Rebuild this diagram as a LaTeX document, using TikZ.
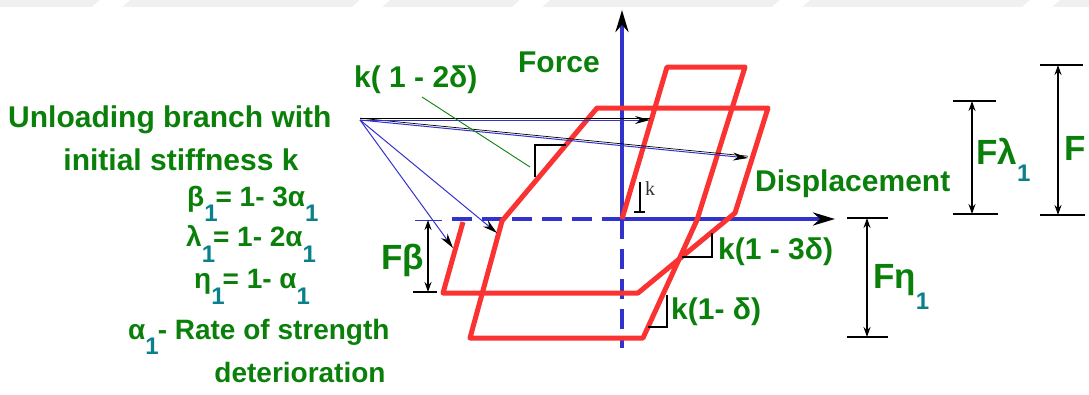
\documentclass[tikz,border=0pt]{standalone}
\usepackage{fontspec}
\setmainfont{Liberation Sans}
\newfontfamily\serifk{Liberation Serif}
\usetikzlibrary{arrows.meta}
\definecolor{myred}{RGB}{250,50,50}
\definecolor{myblue}{RGB}{50,50,205}
\definecolor{mygreen}{RGB}{10,128,10}
\definecolor{subteal}{RGB}{10,128,140}
\newcommand{\subone}{\raisebox{-0.55em}{\color{subteal}\fontsize{24}{24}\selectfont 1}}
\begin{document}
\begin{tikzpicture}[x=1pt,y=-1pt,
  lbl/.style={text=mygreen,font=\bfseries\fontsize{30}{34}\selectfont,inner sep=0pt},
  eqlbl/.style={text=mygreen,font=\bfseries\fontsize{28}{32}\selectfont,inner sep=0pt},
  biglbl/.style={text=mygreen,font=\bfseries\fontsize{35}{38}\selectfont,inner sep=0pt},
  loop/.style={draw=myred,line width=5pt,line join=round},
  axisline/.style={draw=myblue,line width=4.5pt},
  axisdash/.style={axisline,dash pattern=on 20pt off 10pt},
  axisarrow/.style={-{Stealth[length=22pt,width=13pt,color=black]}},
  pointer/.style={draw=myblue,line width=1pt,-{Stealth[length=15pt,width=8pt,color=black]}},
  shadow/.style={draw=black,line width=0.7pt},
  dimline/.style={draw=black,line width=1.3pt,{Stealth[length=10pt,width=7pt]}-{Stealth[length=10pt,width=7pt]}},
  dimbar/.style={draw=black,line width=2pt},
  slopemark/.style={draw=black,line width=1.2pt},
  leader/.style={draw=mygreen,line width=0.9pt}]
\useasboundingbox (0,0) rectangle (1089,394);
% faint top band
\fill[gray!12] (0,0) rectangle (1089,7);
\foreach \xa in {100,360,520,780,1030}{
  \fill[white] (\xa,0) -- (\xa+30,0) -- (\xa+22,7) -- (\xa-8,7) -- cycle;}

% axes
\coordinate (O) at (622,219);
\coordinate (ytop) at (622,10);
\coordinate (ybot) at (622,348);
\coordinate (xleft) at (448,219);
\coordinate (xright) at (835,219);
\draw[axisdash] (O) -- (ybot);
\draw[axisdash] (O) -- (xleft);
\draw[axisline,axisarrow] (O) -- (ytop);
\draw[axisline,axisarrow] (O) -- (xright);

% hysteresis path
\coordinate (A1) at (667,67);
\coordinate (A2) at (745,67);
\coordinate (A3) at (697,220);
\coordinate (A4) at (643,338);
\coordinate (A5) at (470,338);
\coordinate (A6) at (502,221);
\coordinate (A7) at (597,108);
\coordinate (A8) at (768,108);
\coordinate (A9) at (735,213);
\coordinate (A10) at (638,293);
\coordinate (A11) at (443,293);
\coordinate (A12) at (463,222);
\draw[loop] (O) -- (A1) -- (A2) -- (A3) -- (A4) -- (A5) -- (A6) -- (A7) -- (A8) -- (A9) -- (A10) -- (A11) -- (A12);

% slope markers
\draw[slopemark] (634,212) -- (645,212);
\draw[slopemark] (640,212) -- (640,182);
\draw[slopemark] (566,145) -- (535,145) -- (535,177);
\draw[slopemark] (682,257) -- (712,257) -- (712,233);
\draw[slopemark] (648,327) -- (667,327) -- (667,295);

% pointers
\coordinate (P) at (360,120);
\coordinate (T1) at (650,120);
\coordinate (T2) at (748,158);
\coordinate (T3) at (453,248);
\coordinate (T4) at (497,233);
\draw[shadow] ([yshift=1.8pt]P) -- ([yshift=1.8pt]T1);
\draw[shadow] ([yshift=1.8pt]P) -- ([yshift=1.8pt]T2);
\draw[pointer] (P) -- (T1);
\draw[pointer] (P) -- (T2);
\draw[pointer] (P) -- (T3);
\draw[pointer] (P) -- (T4);

% leader for k(1-2delta)
\coordinate (L1) at (422,97);
\coordinate (L2) at (530,167);
\draw[leader] (L1) -- (L2);

% dimension F beta
\coordinate (Fb1) at (428,220);
\coordinate (Fb2) at (428,292);
\draw[draw=myblue,line width=1pt] (415,220) -- (442,220);
\draw[dimbar] (413,292) -- (437,292);
\draw[dimline] (Fb1) -- (Fb2);
% dimension F eta
\coordinate (Fe1) at (867,218);
\coordinate (Fe2) at (867,337);
\draw[dimbar] (847,218) -- (888,218);
\draw[dimbar] (847,337) -- (888,337);
\draw[dimline] (Fe1) -- (Fe2);
% dimension F lambda
\coordinate (Fl1) at (972,101);
\coordinate (Fl2) at (972,214);
\draw[dimbar] (953,101) -- (996,101);
\draw[dimbar] (953,214) -- (998,214);
\draw[dimline] (Fl1) -- (Fl2);
% dimension F
\coordinate (Ff1) at (1058,65);
\coordinate (Ff2) at (1058,215);
\draw[dimbar] (1040,65) -- (1083,65);
\draw[dimbar] (1040,215) -- (1085,215);
\draw[dimline] (Ff1) -- (Ff2);

% texts
\node[lbl] (force) at (559,62) {Force};
\node[lbl,anchor=west] (k2d) at (354,80) {k( 1 - 2δ)};
\node[lbl,anchor=west] (unl) at (8,120) {Unloading branch with};
\node[lbl] (init) at (181,160) {initial stiffness k};
\node[eqlbl,anchor=west] (eqb) at (187,204) {β\subone\kern-2pt= 1- 3α\subone};
\node[eqlbl,anchor=west] (eql) at (186,244) {λ\subone\kern-2pt= 1- 2α\subone};
\node[eqlbl,anchor=west] (eqe) at (194,287) {η\subone\kern-2pt= 1- α\subone};
\node[eqlbl,anchor=west] (eqa) at (128,337) {α\subone\kern-1pt- Rate of strength};
\node[eqlbl] (det) at (300,372) {deterioration};
\node[lbl,anchor=west] (disp) at (755,184) {Displacement};
\node[lbl,anchor=west] (k3d) at (718,252) {k(1 - 3δ)};
\node[lbl,anchor=west] (k1d) at (671,312) {k(1- δ)};
\node[anchor=west,inner sep=0pt,font=\serifk\fontsize{20}{22}\selectfont,text=black!80] (kk) at (645,189) {k};
\node[biglbl,anchor=east] (fb) at (424,260) {Fβ};
\node[biglbl,anchor=west] (fe) at (873,287) {Fη\raisebox{-0.6em}{\color{subteal}\fontsize{24}{24}\selectfont 1}};
\node[biglbl,anchor=west] (fl) at (976,160) {Fλ\raisebox{-0.5em}{\color{subteal}\fontsize{24}{24}\selectfont 1}};
\node[biglbl,anchor=west] (ff) at (1064,148) {F};
\end{tikzpicture}
\end{document}
